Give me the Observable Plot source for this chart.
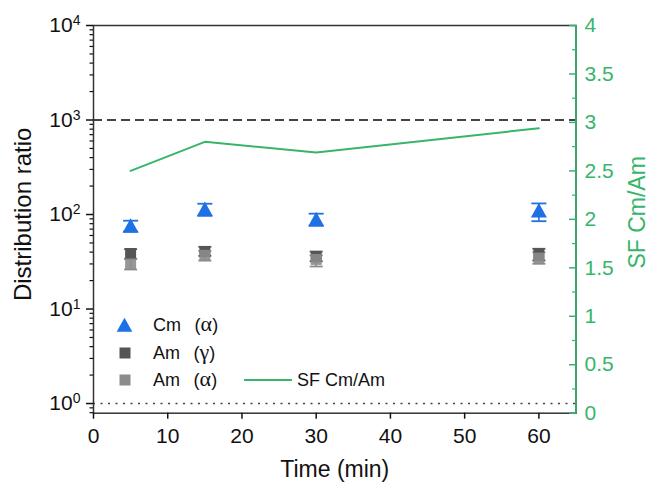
<!DOCTYPE html>
<html><head><meta charset="utf-8">
<script src="https://cdn.jsdelivr.net/npm/d3@7"></script>
<script src="https://cdn.jsdelivr.net/npm/@observablehq/plot@0.6"></script>
<style>
body{margin:0;background:#fff}
#wrap{position:relative;width:651px;height:491px}
#wrap svg{position:absolute;left:0;top:0}
</style>
</head><body><div id="wrap"></div>
<script>
// ---- data ----
const times = [5, 15, 30, 60];
const cmAlpha = [76, 114, 89, 110];
const cmAlphaLow = [66, 97, 76, 85];
const cmAlphaHigh = [86, 130, 102, 131];
const amGamma = [38.7, 40.5, 36, 37.7];
const amGammaLow = [34, 36.5, 32, 32.6];
const amGammaHigh = [43, 45.5, 40.5, 43.4];
const amAlpha = [30, 37, 33.5, 34.6];
const amAlphaLow = [26.2, 32.5, 28.2, 30.1];
const amAlphaHigh = [34, 41, 37, 39.9];
const sfCmAm = [2.50, 2.80, 2.69, 2.94];
const xTicks = [0, 10, 20, 30, 40, 50, 60];
const yMajorTicks = [1, 10, 100, 1000, 10000];
const sfTicks = [0, 0.5, 1, 1.5, 2, 2.5, 3, 3.5, 4];
const sfMinorTicks = [0.25, 0.75, 1.25, 1.75, 2.25, 2.75, 3.25, 3.75];
const referenceLines = [1000];
const baseLine = [1];
const legendNames = ["Cm", "Am", "Am", "SF Cm/Am"];
const legendGreek = ["α", "γ", "α"];
const xLabel = "Time (min)";
const yLabel = "Distribution ratio";
const y2Label = "SF Cm/Am";

// ---- layout / style ----
const W = 651, H = 491, mL = 93, mR = 75.5, mT = 25, mB = 78.3;
const xDomain = [0, 65], yDomain = [0.79, 10000], y2Domain = [0, 4];
const blue = "#1f6fe5", dark = "#555555", light = "#8c8c8c", green = "#36b56b";
const font = "'Liberation Sans', Arial, sans-serif";

const rows = times.map((t, i) => ({
  t, cm: cmAlpha[i], cmLo: cmAlphaLow[i], cmHi: cmAlphaHigh[i],
  ag: amGamma[i], agLo: amGammaLow[i], agHi: amGammaHigh[i],
  aa: amAlpha[i], aaLo: amAlphaLow[i], aaHi: amAlphaHigh[i],
  sf: sfCmAm[i]
}));

const yMinorTicks = [];
[0.1, 1, 10, 100, 1000].forEach(b => { for (let k = 2; k <= 9; k++) { const v = b * k; if (v >= yDomain[0] && v < yDomain[1]) yMinorTicks.push(v); } });

const tri = {draw(ctx) { ctx.moveTo(0, -7.6); ctx.lineTo(8, 7); ctx.lineTo(-8, 7); ctx.closePath(); }};
const sq = {draw(ctx) { ctx.rect(-5.5, -5.5, 11, 11); }};
const cap = w => ({draw(ctx) { ctx.moveTo(-w, 0); ctx.lineTo(w, 0); }});
const tickIn = len => ({draw(ctx) { ctx.moveTo(-len, 0); ctx.lineTo(0, 0); }});

function errorMarks(key, color, capW) {
  return [
    Plot.ruleX(rows, {x: "t", y1: key + "Lo", y2: key + "Hi", stroke: color, strokeWidth: 1.6}),
    Plot.dot(rows, {x: "t", y: key + "Lo", symbol: cap(capW), stroke: color, strokeWidth: 1.8, fill: "none"}),
    Plot.dot(rows, {x: "t", y: key + "Hi", symbol: cap(capW), stroke: color, strokeWidth: 1.8, fill: "none"})
  ];
}

const plot1 = Plot.plot({
  width: W, height: H,
  marginLeft: mL, marginRight: mR, marginTop: mT, marginBottom: mB,
  style: {fontFamily: font, fontSize: "21px", color: "#111", background: "transparent", overflow: "visible"},
  x: {domain: xDomain},
  y: {type: "log", domain: yDomain},
  marks: [
    Plot.ruleY(referenceLines, {stroke: "#444", strokeWidth: 2, strokeDasharray: "9,5"}),
    Plot.ruleY(baseLine, {stroke: "#444", strokeWidth: 1.6, strokeDasharray: "2,5.5"}),
    Plot.frame({stroke: "#333", strokeWidth: 1.5}),
    Plot.axisX({ticks: xTicks, tickSize: 6, tickPadding: 9, label: null, tickFormat: d => String(d), strokeWidth: 1.5}),
    Plot.axisY({ticks: yMajorTicks, tickSize: 7, tickPadding: 6, label: null, tickFormat: d => "10^" + Math.round(Math.log10(d)), strokeWidth: 1.5}),
    Plot.axisY({ticks: yMinorTicks, tickSize: 3.5, label: null, tickFormat: () => "", strokeWidth: 1.2}),
    ...errorMarks("ag", dark, 6.5),
    ...errorMarks("aa", light, 6.5),
    Plot.dot(rows, {x: "t", y: "ag", symbol: sq, fill: dark, stroke: "none"}),
    Plot.dot(rows, {x: "t", y: "aa", symbol: sq, fill: light, stroke: "none", fillOpacity: 0.9}),
    ...errorMarks("cm", blue, 7.5),
    Plot.dot(rows, {x: "t", y: "cm", symbol: tri, fill: blue, stroke: "none"}),
    Plot.text([xLabel], {frameAnchor: "bottom", dy: 64, fontSize: 23, fill: "#111", textAnchor: "middle"}),
    Plot.text([yLabel], {frameAnchor: "left", dx: -70, dy: -5, rotate: -90, fontSize: 24, fill: "#111", textAnchor: "middle"})
  ]
});

const plot2 = Plot.plot({
  width: W, height: H,
  marginLeft: mL, marginRight: mR, marginTop: mT, marginBottom: mB,
  style: {fontFamily: font, fontSize: "21px", color: green, background: "transparent", overflow: "visible"},
  x: {domain: xDomain, axis: null},
  y: {domain: y2Domain},
  marks: [
    Plot.line(rows, {x: "t", y: "sf", stroke: green, strokeWidth: 2}),
    Plot.ruleX([xDomain[1]], {stroke: green, strokeWidth: 1.6}),
    Plot.axisY({anchor: "right", ticks: sfTicks, tickSize: 0, tickPadding: 8.5, label: null, color: green, tickFormat: d => String(d)}),
    Plot.dot(sfTicks, {y: d => d, frameAnchor: "right", symbol: tickIn(7), stroke: green, strokeWidth: 1.5, fill: "none"}),
    Plot.dot(sfMinorTicks, {y: d => d, frameAnchor: "right", symbol: tickIn(4), stroke: green, strokeWidth: 1.2, fill: "none"}),
    Plot.text([y2Label], {frameAnchor: "right", dx: 61.5, dy: -7, rotate: -90, fontSize: 23, fill: green, textAnchor: "middle"})
  ]
});

const wrap = document.getElementById("wrap");
wrap.appendChild(plot1);
wrap.appendChild(plot2);

// superscript exponents on the log axis
d3.select(plot1).selectAll('g[aria-label="y-axis tick label"] text').each(function () {
  const t = this.textContent;
  if (t.startsWith("10^")) {
    const e = t.slice(3);
    const s = d3.select(this);
    s.text("10");
    s.append("tspan").attr("dy", "-0.5em").attr("font-size", "14px").text(e);
  }
});

// legend
const lg = d3.select(plot2).append("g").attr("font-family", font).attr("font-size", 18).attr("fill", "#111").attr("text-anchor", "start");
const legendRows = [
  {y: 325, kind: "tri", color: blue},
  {y: 353, kind: "sq", color: dark},
  {y: 380, kind: "sq", color: light}
];
legendRows.forEach((r, i) => {
  if (r.kind === "tri") lg.append("path").attr("d", "M124.5,317.7L132.3,331.8L116.7,331.8Z").attr("fill", r.color);
  else lg.append("rect").attr("x", 119.5).attr("y", r.y - 5.5).attr("width", 11).attr("height", 11).attr("fill", r.color);
  const t = lg.append("text").attr("x", 153).attr("y", r.y).attr("dy", "0.35em");
  t.append("tspan").text(legendNames[i] + "\u00a0\u00a0\u2009(");
  t.append("tspan").attr("font-family", "'Liberation Serif', serif").attr("font-size", 22).text(legendGreek[i]);
  t.append("tspan").text(")");
});
lg.append("line").attr("x1", 244).attr("x2", 292).attr("y1", 380).attr("y2", 380).attr("stroke", green).attr("stroke-width", 2);
lg.append("text").attr("x", 297).attr("y", 380).attr("dy", "0.35em").text(legendNames[3]);
</script>
</body></html>
